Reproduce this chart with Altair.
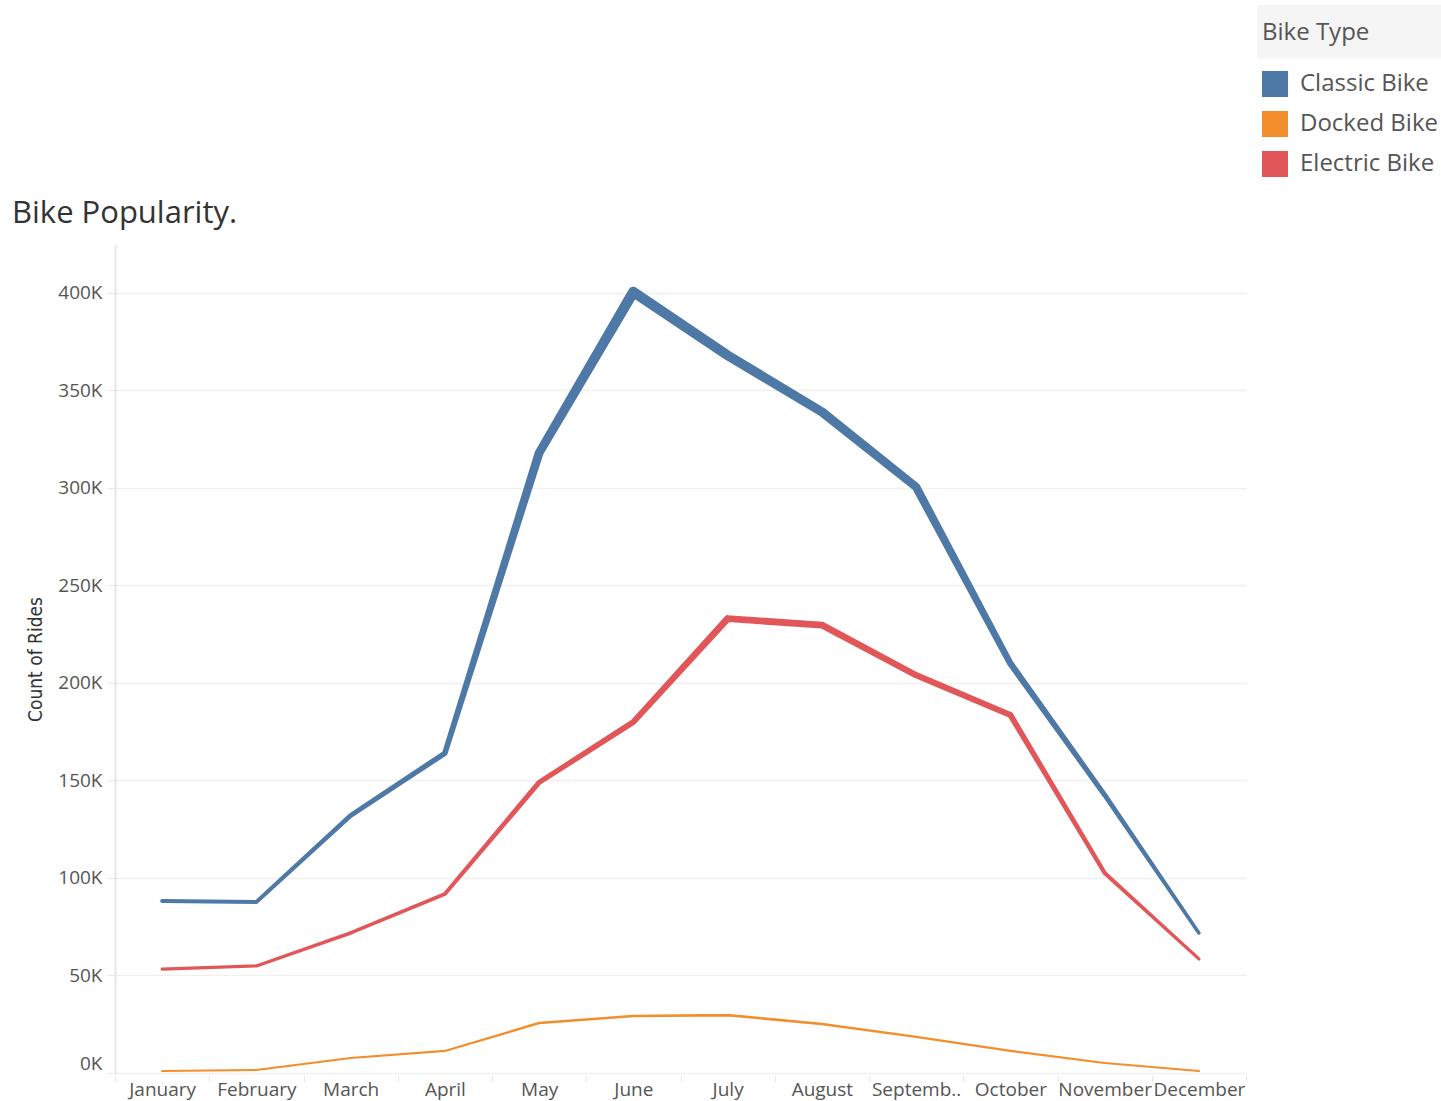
import altair as alt
import pandas as pd

months = ["January", "February", "March", "April", "May", "June", "July",
          "August", "September", "October", "November", "December"]
bike_types = ["Classic Bike", "Docked Bike", "Electric Bike"]
classic = [88200, 87700, 132000, 164000, 318000, 400500, 368000, 339000, 300500, 210000, 142600, 71800]
docked = [1000, 1500, 7700, 11300, 25600, 29200, 29700, 25100, 18500, 11300, 5100, 1000]
electric = [53300, 54900, 71800, 91800, 149000, 180000, 233000, 229700, 204000, 183600, 102600, 58500]
colors = ["#4e79a7", "#f28e2b", "#e15759"]
y_ticks = [0, 50000, 100000, 150000, 200000, 250000, 300000, 350000, 400000]

rows = []
for i, (bt, vals) in enumerate(zip(bike_types, [classic, docked, electric])):
    for j, (m, v) in enumerate(zip(months, vals)):
        rows.append({"Month": m, "Bike Type": bt, "Count of Rides": v, "monthIndex": j})
df = pd.DataFrame(rows)

FONT = "Open Sans"
COND = "'DejaVu Sans Condensed', 'Liberation Sans Narrow', Roboto, sans-serif"

x_enc = alt.X("Month:N", sort=months,
              scale=alt.Scale(type="band", paddingInner=0, paddingOuter=0),
              axis=alt.Axis(title=None, labelAngle=0, domain=False, grid=False,
                            tickBand="extent", tickSize=7, tickColor="#e8e8e8",
                            offset=2, labelPadding=-2, labelFontSize=19,
                            labelColor="#555555", labelFont=FONT,
                            labelExpr="datum.value == 'September' ? 'Septemb..' : datum.value"))
y_enc = alt.Y("Count of Rides:Q",
              scale=alt.Scale(domain=[0, 424600], nice=False, zero=False),
              axis=alt.Axis(values=y_ticks, labelExpr="(datum.value/1000) + 'K'",
                            labelFlush=True, labelFontSize=19, labelColor="#555555",
                            labelFont=FONT, tickSize=8, tickColor="#e8e8e8",
                            labelPadding=5, domainColor="#e6e6e6", domainWidth=2,
                            gridColor="#f0f0f0", gridWidth=1.5,
                            title="Count of Rides", titleFont=COND,
                            titleFontSize=19, titleFontWeight="normal",
                            titleColor="#333333", titlePadding=12))
color_scale = alt.Scale(domain=bike_types, range=colors)

# legend carrier: tiny filled squares hidden beneath the trails
keys = alt.Chart(df).mark_square(filled=True, size=1, opacity=1).encode(
    x=x_enc, y=y_enc,
    color=alt.Color("Bike Type:N", sort=bike_types, scale=color_scale,
                    legend=alt.Legend(orient="none", legendX=1147, legendY=-224,
                                      symbolType="square", symbolSize=676,
                                      symbolStrokeWidth=0, symbolOpacity=1,
                                      labelFontSize=24, labelFont=FONT,
                                      labelColor="#555555", labelOffset=12,
                                      rowPadding=14, titleFontSize=24,
                                      titleFont=FONT, titleFontWeight="normal",
                                      titleColor="#555555", titlePadding=26)),
)

lines = alt.Chart(df).mark_trail().encode(
    x=x_enc, y=y_enc,
    color=alt.Color("Bike Type:N", sort=bike_types, scale=color_scale, legend=None),
    size=alt.Size("Count of Rides:Q",
                  scale=alt.Scale(domain=[0, 400000], range=[2, 10.5]),
                  legend=None),
    order=alt.Order("monthIndex:Q"),
)

bg = alt.Chart(pd.DataFrame({"a": [0]})).mark_rect(color="#f5f5f5").encode(
    x=alt.value(1142), x2=alt.value(1326), y=alt.value(-240), y2=alt.value(-187)
)

chart = alt.layer(bg, keys, lines).properties(
    width=1131, height=828,
    autosize=alt.AutoSizeParams(type="none"),
    padding={"left": 115, "top": 245, "right": 195, "bottom": 28},
    title=alt.TitleParams("Bike Popularity.", anchor="start", frame="group",
                          font=FONT, fontSize=31, fontWeight=500,
                          color="#333333", dx=-103, dy=240, offset=15),
).configure_view(stroke=None)

chart.save("out.html", embed_options={"renderer": "svg", "actions": False})
